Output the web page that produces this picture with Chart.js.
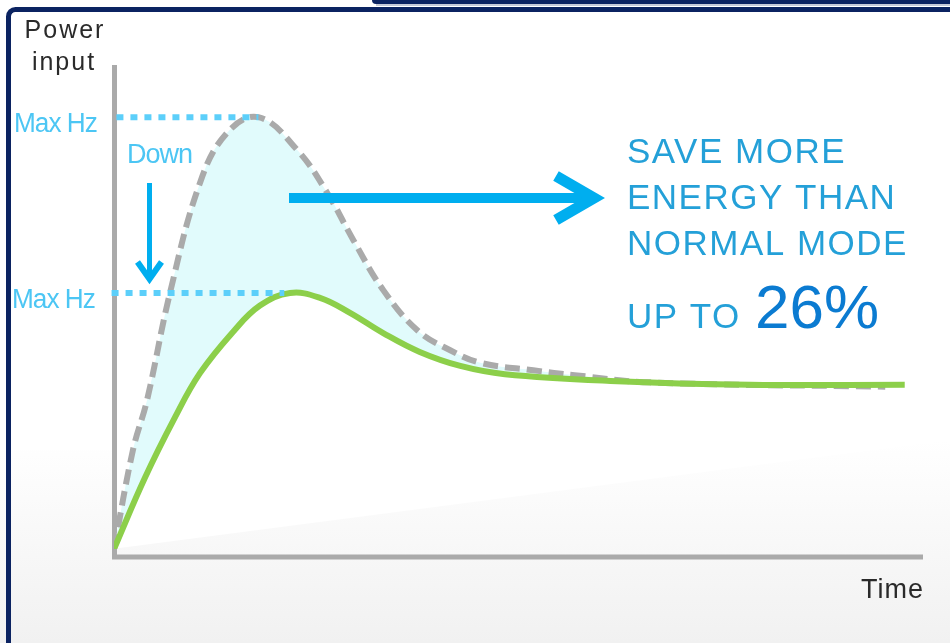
<!DOCTYPE html>
<html lang="en">
<head>
    <meta charset="UTF-8">
    <title>Power input vs Time</title>
    <style>
        body { margin: 0; padding: 0; background: #ffffff; }
        #chart { display: block; }
    </style>
</head>
<body>
    <canvas id="chart" width="950" height="643"></canvas>

    <script src="https://cdn.jsdelivr.net/npm/chart.js"></script>
    <script>
        // normal mode (dashed grey) - time / power in 0..100 units
        const normalTime  = [0, 2.34, 4.07, 6.9, 10.6, 13.9, 17.8, 22.6, 26.3, 29.5, 33.2, 37.4, 41.4, 45.3, 51.7, 56.8, 66.1, 95.1];
        const normalPower = [0, 20.5, 30.8, 53.0, 75.8, 86.1, 89.4, 82.6, 73.7, 64.0, 53.6, 45.3, 41.2, 38.5, 37.0, 36.0, 34.5, 33.6];

        // saving mode (green)
        const saveTime  = [0, 3.8, 7.5, 10.6, 14.7, 18.0, 21.7, 25.4, 29.1, 33.2, 37.7, 42.7, 48.2, 61.2, 78.5, 97.5];
        const savePower = [0, 14.7, 27.2, 36.4, 45.0, 50.4, 53.0, 52.0, 48.9, 44.7, 40.8, 37.9, 36.2, 34.8, 34.0, 34.0];

        // Max Hz reference levels
        const maxHzNormal = 89.4;
        const maxHzSave = 53.0;
        const maxHzNormalEnd = 17.8;
        const maxHzSaveEnd = 21.0;

        const pts = (xs, ys) => xs.map((x, i) => ({ x: x, y: ys[i] }));

        const CYAN = '#00aeef';
        const LIGHT = '#4cc6f4';
        const TEXT = '#24a0d8';

        // condensed text (no narrow font installed)
        function narrowText(c, str, x, y, sx) {
            c.save();
            c.translate(x, y);
            c.scale(sx, 1);
            c.fillText(str, 0, 0);
            c.restore();
        }

        const frame = {
            id: 'frame',
            beforeDraw(chart) {
                const c = chart.ctx;
                c.save();
                c.fillStyle = '#ffffff';
                c.fillRect(0, 0, 950, 643);
                // soft grey floor
                const g = c.createLinearGradient(0, 440, 0, 643);
                g.addColorStop(0, '#ffffff');
                g.addColorStop(0.5, '#f8f8f8');
                g.addColorStop(1, '#f1f1f1');
                c.fillStyle = g;
                c.beginPath();
                c.moveTo(0, 450);
                c.lineTo(112, 450);
                c.lineTo(112, 549);
                c.lineTo(950, 440);
                c.lineTo(950, 643);
                c.lineTo(0, 643);
                c.closePath();
                c.fill();

                // navy frame
                c.fillStyle = '#0b2361';
                c.beginPath();
                c.roundRect(372, -6, 600, 10, 4);
                c.fill();
                c.fillStyle = '#c5cad8';
                c.fillRect(376, 4, 574, 2);
                c.strokeStyle = '#0b2361';
                c.lineWidth = 5;
                c.beginPath();
                c.moveTo(8.5, 650);
                c.lineTo(8.5, 17);
                c.arcTo(8.5, 9.5, 16, 9.5, 7);
                c.lineTo(960, 9.5);
                c.stroke();
                c.restore();
            },
            beforeDatasetsDraw(chart) {
                const c = chart.ctx;
                const a = chart.chartArea;
                c.save();
                c.strokeStyle = '#aaaaaa';
                c.lineWidth = 5;
                c.beginPath();
                c.moveTo(a.left + 0.5, a.top - 1);
                c.lineTo(a.left + 0.5, a.bottom + 8);
                c.lineTo(a.right - 2, a.bottom + 8);
                c.stroke();
                c.restore();
            },
            afterDraw(chart) {
                const c = chart.ctx;
                const y = chart.scales.y;
                c.save();

                // axis titles
                c.fillStyle = '#2a2a2a';
                c.font = '25px "Liberation Sans", Arial, sans-serif';
                c.letterSpacing = '2px';
                c.textAlign = 'center';
                c.textBaseline = 'alphabetic';
                c.fillText('Power', 65, 38);
                c.fillText('input', 64, 70);
                c.textAlign = 'right';
                c.letterSpacing = '1px';
                c.font = '27px "Liberation Sans", Arial, sans-serif';
                c.fillText('Time', 924, 598);

                // Max Hz labels
                c.fillStyle = LIGHT;
                c.letterSpacing = '-1px';
                c.textAlign = 'left';
                c.font = '27px "Liberation Sans", Arial, sans-serif';
                narrowText(c, 'Max Hz', 14, y.getPixelForValue(maxHzNormal) + 15, 0.97);
                narrowText(c, 'Max Hz', 12, y.getPixelForValue(maxHzSave) + 15, 0.97);
                narrowText(c, 'Down', 127, 163, 1.0);

                // down arrow
                c.strokeStyle = CYAN;
                c.lineWidth = 5;
                const ax = 149.5;
                c.beginPath();
                c.moveTo(ax, 183);
                c.lineTo(ax, 277);
                c.stroke();
                c.lineWidth = 6;
                c.lineJoin = 'miter';
                c.beginPath();
                c.moveTo(ax - 12, 262);
                c.lineTo(ax, 279);
                c.lineTo(ax + 12, 262);
                c.stroke();

                // big saving arrow
                const ay = 198;
                c.lineWidth = 10;
                c.beginPath();
                c.moveTo(289, ay);
                c.lineTo(588, ay);
                c.stroke();
                c.lineWidth = 11;
                c.beginPath();
                c.moveTo(556, ay - 22);
                c.lineTo(594, ay);
                c.lineTo(556, ay + 22);
                c.stroke();

                // message
                c.fillStyle = TEXT;
                c.font = '35px "Liberation Sans", Arial, sans-serif';
                c.letterSpacing = '1.5px';
                c.fillText('SAVE MORE', 627, 163);
                c.fillText('ENERGY THAN', 627, 209);
                c.fillText('NORMAL MODE', 627, 255);
                c.fillText('UP TO', 627, 328);
                c.fillStyle = '#0b7bd1';
                c.letterSpacing = '0px';
                c.font = '62px "Liberation Sans", Arial, sans-serif';
                c.fillText('26%', 755, 328);
                c.restore();
            }
        };

        new Chart(document.getElementById('chart'), {
            type: 'line',
            data: {
                datasets: [
                    {
                        label: 'Saving mode',
                        data: pts(saveTime, savePower),
                        borderColor: '#8ccf4a',
                        borderWidth: 6,
                        pointRadius: 0,
                        tension: 0.4,
                        fill: false,
                        order: 1
                    },
                    {
                        label: 'Normal mode',
                        data: pts(normalTime, normalPower),
                        borderColor: '#aaaaaa',
                        borderWidth: 6,
                        borderDash: [15, 7],
                        pointRadius: 0,
                        tension: 0.4,
                        backgroundColor: '#e1fbfc',
                        fill: { target: 0 },
                        order: 2
                    },
                    {
                        label: 'Max Hz normal',
                        data: [{ x: 0.3, y: maxHzNormal }, { x: maxHzNormalEnd, y: maxHzNormal }],
                        borderColor: '#5ccffa',
                        borderWidth: 6,
                        borderDash: [7, 7],
                        pointRadius: 0,
                        fill: false,
                        clip: false,
                        order: 0
                    },
                    {
                        label: 'Max Hz saving',
                        data: [{ x: -0.3, y: maxHzSave }, { x: maxHzSaveEnd, y: maxHzSave }],
                        borderColor: '#5ccffa',
                        borderWidth: 6,
                        borderDash: [7, 7],
                        pointRadius: 0,
                        fill: false,
                        clip: false,
                        order: 0
                    }
                ]
            },
            options: {
                responsive: false,
                animation: false,
                layout: { padding: { left: 114, right: 25, top: 66, bottom: 94 } },
                plugins: { legend: { display: false }, tooltip: { enabled: false } },
                scales: {
                    x: { type: 'linear', min: 0, max: 100, display: false },
                    y: { type: 'linear', min: 0, max: 100, display: false }
                }
            },
            plugins: [frame]
        });
    </script>
</body>
</html>
